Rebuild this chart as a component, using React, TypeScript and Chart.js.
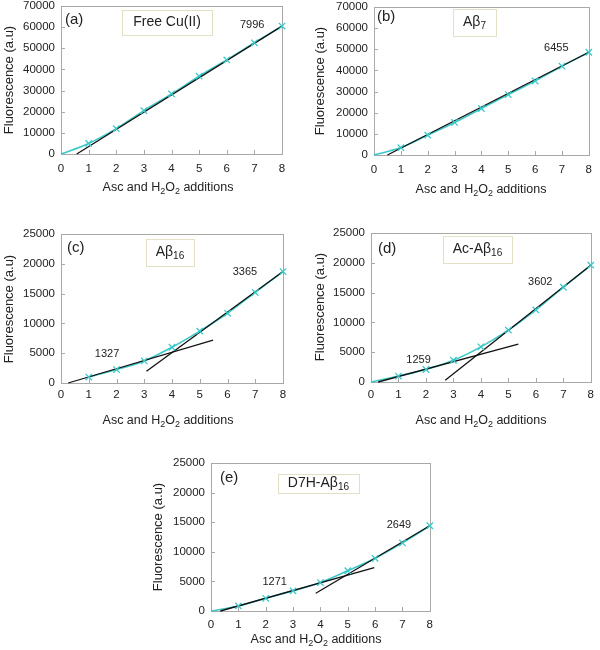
import React, { useEffect, useRef } from 'react';
import { Chart, registerables } from 'chart.js';

Chart.register(...registerables);

// ---------- data ----------
const additions = [1, 2, 3, 4, 5, 6, 7, 8];

const freeCuValues = [5000, 12000, 20500, 28400, 36800, 44500, 52600, 60500];
const ab7Values = [3500, 9400, 15400, 22000, 28600, 35000, 42000, 48600];
const ab16Values = [1000, 2250, 3700, 6000, 8700, 11700, 15200, 18700];
const acAb16Values = [1000, 2100, 3650, 5900, 8700, 12100, 15900, 19600];
const d7hAb16Values = [850, 2150, 3400, 4800, 6800, 8900, 11500, 14400];

// fitted straight lines: [x, y] end points
const freeCuFit = [[0.57, 0], [8, 60500]];
const ab7Fit = [[0.5, 0], [8, 48600]];
const ab16FitEarly = [[0.26, 0], [5.48, 7200]];
const ab16FitLate = [[3.08, 1970], [8, 18700]];
const acAb16FitEarly = [[0.26, 0], [5.36, 6350]];
const acAb16FitLate = [[2.7, 280], [8, 19600]];
const d7hAb16FitEarly = [[0.34, 0], [5.97, 7340]];
const d7hAb16FitLate = [[3.83, 3000], [8, 14400]];

// slopes written next to the fits
const freeCuSlopes = ['7996'];
const ab7Slopes = ['6455'];
const ab16Slopes = ['1327', '3365'];
const acAb16Slopes = ['1259', '3602'];
const d7hAb16Slopes = ['1271', '2649'];

const xTicks70 = [0, 10000, 20000, 30000, 40000, 50000, 60000, 70000];
const xTicks25 = [0, 5000, 10000, 15000, 20000, 25000];

// ---------- style ----------
const FONT = '"Liberation Sans", Arial, Helvetica, sans-serif';
const CYAN = 'rgb(60,200,200)';
const BLACK = '#111';
const TEXT = '#222';

type Part = { t: string; sub?: boolean };

interface Panel {
  letter: string;
  name: Part[];
  values: number[];
  fits: number[][][];
  slopes: string[];
  slopePos: number[][]; // data coords (layout)
  withOrigin: boolean;
  yTicks: number[];
  canvas: number[]; // page x, y, w, h
  area: number[]; // page l, t, r, b
  letterPos: number[];
  box: number[]; // page l, t, r, b
  xTitle: number[];
  yTitle: number[];
  tickPadX: number;
}

const xTitleParts: Part[] = [
  { t: 'Asc and H' },
  { t: '2', sub: true },
  { t: 'O' },
  { t: '2', sub: true },
  { t: ' additions' },
];
const yTitleParts: Part[] = [{ t: 'Fluorescence (a.u)' }];

const panels: Panel[] = [
  {
    letter: '(a)',
    name: [{ t: 'Free Cu(II)' }],
    values: freeCuValues,
    fits: [freeCuFit],
    slopes: freeCuSlopes,
    slopePos: [[6.92, 61000]],
    withOrigin: true,
    yTicks: xTicks70,
    canvas: [0, -10, 300, 215],
    area: [61, 6, 282, 154],
    letterPos: [65, 20],
    box: [122, 10, 212, 35],
    xTitle: [168, 188],
    yTitle: [9, 80],
    tickPadX: 8,
  },
  {
    letter: '(b)',
    name: [{ t: 'A\u03b2' }, { t: '7', sub: true }],
    values: ab7Values,
    fits: [ab7Fit],
    slopes: ab7Slopes,
    slopePos: [[6.79, 50600]],
    withOrigin: true,
    yTicks: xTicks70,
    canvas: [300, -10, 300, 215],
    area: [374, 7, 593, 155],
    letterPos: [377, 17],
    box: [453, 9, 496, 36],
    xTitle: [481, 190],
    yTitle: [320, 81],
    tickPadX: 8,
  },
  {
    letter: '(c)',
    name: [{ t: 'A\u03b2' }, { t: '16', sub: true }],
    values: ab16Values,
    fits: [ab16FitEarly, ab16FitLate],
    slopes: ab16Slopes,
    slopePos: [[1.66, 4870], [6.63, 18620]],
    withOrigin: false,
    yTicks: xTicks25,
    canvas: [0, 205, 300, 225],
    area: [61, 234, 283, 383],
    letterPos: [67, 248],
    box: [146, 239, 194, 266],
    xTitle: [168, 421],
    yTitle: [9, 309],
    tickPadX: 5,
  },
  {
    letter: '(d)',
    name: [{ t: 'Ac-A\u03b2' }, { t: '16', sub: true }],
    values: acAb16Values,
    fits: [acAb16FitEarly, acAb16FitLate],
    slopes: acAb16Slopes,
    slopePos: [[1.73, 3690], [6.16, 16780]],
    withOrigin: true,
    yTicks: xTicks25,
    canvas: [300, 205, 300, 225],
    area: [371, 233, 593, 382],
    letterPos: [378, 249],
    box: [443, 236, 512, 263],
    xTitle: [481, 421],
    yTitle: [320, 307],
    tickPadX: 6,
  },
  {
    letter: '(e)',
    name: [{ t: 'D7H-A\u03b2' }, { t: '16', sub: true }],
    values: d7hAb16Values,
    fits: [d7hAb16FitEarly, d7hAb16FitLate],
    slopes: d7hAb16Slopes,
    slopePos: [[2.33, 4900], [6.87, 14530]],
    withOrigin: true,
    yTicks: xTicks25,
    canvas: [140, 430, 300, 220],
    area: [211, 463, 431, 611],
    letterPos: [220, 478],
    box: [278, 474, 359, 493],
    xTitle: [316, 640],
    yTitle: [158, 537],
    tickPadX: 7,
  },
];

function font(size: number) {
  return `${size}px ${FONT}`;
}

function richWidth(ctx: CanvasRenderingContext2D, parts: Part[], size: number) {
  let w = 0;
  for (const p of parts) {
    ctx.font = font(p.sub ? size * 0.72 : size);
    w += ctx.measureText(p.t).width;
  }
  return w;
}

function drawRich(
  ctx: CanvasRenderingContext2D,
  parts: Part[],
  x: number,
  y: number,
  size: number,
  align: 'center' | 'left'
) {
  const w = richWidth(ctx, parts, size);
  let cx = align === 'center' ? x - w / 2 : x;
  ctx.textAlign = 'left';
  ctx.textBaseline = 'middle';
  for (const p of parts) {
    const s = p.sub ? size * 0.72 : size;
    ctx.font = font(s);
    ctx.fillText(p.t, cx, p.sub ? y + size * 0.3 : y);
    cx += ctx.measureText(p.t).width;
  }
}

function makeDeco(panel: Panel) {
  const ox = panel.canvas[0];
  const oy = panel.canvas[1];
  return {
    id: 'deco',
    beforeDatasetsDraw(chart: any) {
      const ctx: CanvasRenderingContext2D = chart.ctx;
      const a = chart.chartArea;
      const xs = chart.scales.x;
      const ys = chart.scales.y;
      ctx.save();
      ctx.strokeStyle = '#a8a8a8';
      ctx.lineWidth = 1;
      ctx.strokeRect(Math.round(a.left) + 0.5, Math.round(a.top) + 0.5, Math.round(a.right - a.left), Math.round(a.bottom - a.top));
      ctx.beginPath();
      for (const t of ys.ticks) {
        const py = Math.round(ys.getPixelForValue(t.value)) + 0.5;
        ctx.moveTo(a.left, py);
        ctx.lineTo(a.left + 4, py);
      }
      for (const t of xs.ticks) {
        const px = Math.round(xs.getPixelForValue(t.value)) + 0.5;
        ctx.moveTo(px, a.bottom);
        ctx.lineTo(px, a.bottom - 4);
      }
      ctx.stroke();
      ctx.restore();
    },
    afterDraw(chart: any) {
      const ctx: CanvasRenderingContext2D = chart.ctx;
      const xs = chart.scales.x;
      const ys = chart.scales.y;
      ctx.save();
      ctx.fillStyle = TEXT;
      // panel letter
      ctx.font = font(15);
      ctx.textAlign = 'left';
      ctx.textBaseline = 'middle';
      ctx.fillText(panel.letter, panel.letterPos[0] - ox, panel.letterPos[1] - oy);
      // name box
      const [bl, bt, br, bb] = panel.box;
      ctx.fillStyle = '#ffffff';
      ctx.fillRect(bl - ox, bt - oy, br - bl, bb - bt);
      ctx.strokeStyle = '#e4e0c6';
      ctx.lineWidth = 1;
      ctx.strokeRect(bl - ox + 0.5, bt - oy + 0.5, br - bl, bb - bt);
      ctx.fillStyle = TEXT;
      drawRich(ctx, panel.name, (bl + br) / 2 - ox, (bt + bb) / 2 - oy, 14, 'center');
      // slopes
      ctx.font = font(11);
      ctx.textAlign = 'center';
      ctx.textBaseline = 'middle';
      panel.slopes.forEach((s, i) => {
        const [dx, dy] = panel.slopePos[i];
        ctx.fillText(s, xs.getPixelForValue(dx), ys.getPixelForValue(dy));
      });
      // axis titles
      drawRich(ctx, xTitleParts, panel.xTitle[0] - ox, panel.xTitle[1] - oy, 12.5, 'center');
      ctx.save();
      ctx.translate(panel.yTitle[0] - ox, panel.yTitle[1] - oy);
      ctx.rotate(-Math.PI / 2);
      drawRich(ctx, yTitleParts, 0, 0, 13, 'center');
      ctx.restore();
      ctx.restore();
    },
  };
}

function PanelChart({ panel }: { panel: Panel }) {
  const ref = useRef<HTMLCanvasElement | null>(null);
  useEffect(() => {
    if (!ref.current) return;
    const [cx, cy, cw, ch] = panel.canvas;
    const [L, T, R, B] = panel.area;
    const marks = panel.values.map((v, i) => ({ x: additions[i], y: v }));
    const curve = (panel.withOrigin ? [{ x: 0, y: 0 }] : []).concat(marks);
    const datasets: any[] = [
      {
        data: marks,
        showLine: false,
        pointStyle: 'crossRot',
        pointRadius: 4.5,
        pointBorderWidth: 1.3,
        pointBorderColor: CYAN,
        borderColor: CYAN,
        backgroundColor: CYAN,
        clip: false,
      },
      ...panel.fits.map((f) => ({
        data: f.map(([x, y]) => ({ x, y })),
        showLine: true,
        borderColor: BLACK,
        borderWidth: 1.3,
        pointRadius: 0,
        clip: false,
      })),
      {
        data: curve,
        showLine: true,
        borderColor: CYAN,
        borderWidth: 1.6,
        pointRadius: 0,
        cubicInterpolationMode: 'monotone',
        clip: false,
      },
    ];
    const yMax = panel.yTicks[panel.yTicks.length - 1];
    const yStep = panel.yTicks[1] - panel.yTicks[0];
    const chart = new Chart(ref.current, {
      type: 'scatter',
      data: { datasets },
      options: {
        animation: false,
        responsive: false,
        devicePixelRatio: 1,
        events: [],
        layout: { padding: { left: 0, top: T - cy, right: cx + cw - R, bottom: 0 } },
        plugins: { legend: { display: false }, tooltip: { enabled: false } },
        scales: {
          x: {
            type: 'linear',
            min: 0,
            max: 8,
            grid: { display: false, drawTicks: false },
            border: { display: false },
            ticks: {
              stepSize: 1,
              padding: panel.tickPadX,
              color: TEXT,
              font: { family: FONT, size: 11.5 },
              callback: (v: any) => String(v),
            },
            afterFit: (s: any) => {
              s.height = cy + ch - B;
            },
          },
          y: {
            type: 'linear',
            min: 0,
            max: yMax,
            grid: { display: false, drawTicks: false },
            border: { display: false },
            ticks: {
              stepSize: yStep,
              padding: 6,
              color: TEXT,
              font: { family: FONT, size: 11.5 },
              callback: (v: any) => String(v),
            },
            afterFit: (s: any) => {
              s.width = L - cx;
            },
          },
        },
      } as any,
      plugins: [makeDeco(panel)],
    });
    return () => chart.destroy();
  }, [panel]);
  const [cx, cy, cw, ch] = panel.canvas;
  return (
    <canvas
      ref={ref}
      width={cw}
      height={ch}
      style={{ position: 'absolute', left: cx, top: cy, width: cw, height: ch }}
    />
  );
}

export default function App() {
  return (
    <div
      style={{
        position: 'absolute',
        left: 0,
        top: 0,
        width: 600,
        height: 650,
        background: '#fff',
        overflow: 'hidden',
      }}
    >
      {panels.map((p) => (
        <PanelChart key={p.letter} panel={p} />
      ))}
    </div>
  );
}
